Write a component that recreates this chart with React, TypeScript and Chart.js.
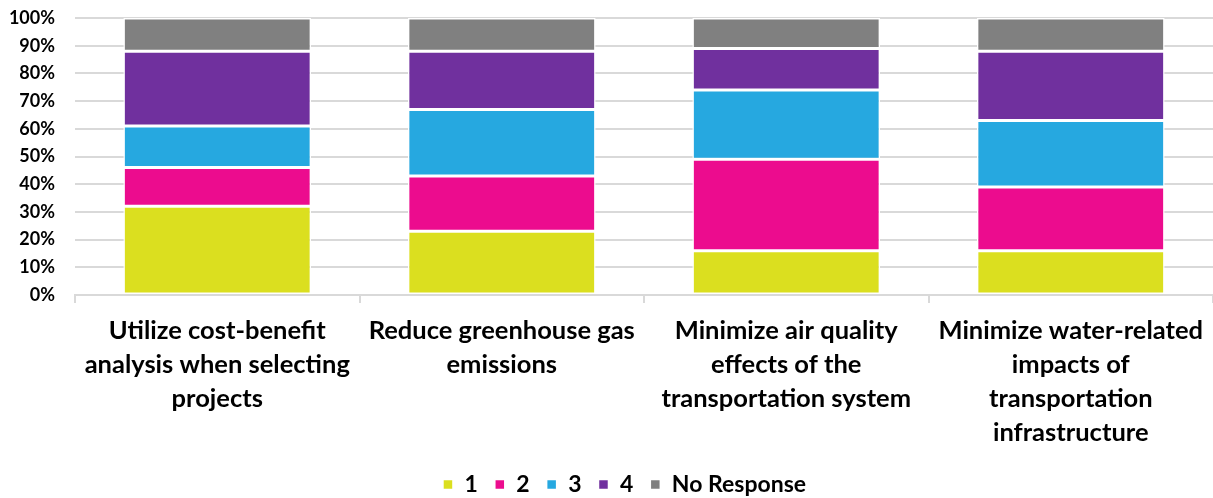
import React, { useEffect, useRef } from "react";
import { Chart, registerables } from "chart.js";

Chart.register(...registerables);

const categories: string[][] = [
  ["Utilize cost-benefit", "analysis when selecting", "projects"],
  ["Reduce greenhouse gas", "emissions"],
  ["Minimize air quality", "effects of the", "transportation system"],
  ["Minimize water-related", "impacts of", "transportation", "infrastructure"],
];

const seriesNames = ["1", "2", "3", "4", "No Response"];
const series1 = [32, 23, 16, 16];
const series2 = [14, 20, 33, 23];
const series3 = [15, 24, 25, 24];
const series4 = [27, 21, 15, 25];
const seriesNR = [12, 12, 11, 12];
const colors = ["#DBDF1F", "#EC0C8E", "#26A8E0", "#70309E", "#808080"];
const yTicks = [0, 10, 20, 30, 40, 50, 60, 70, 80, 90, 100];

const legendShift = {
  id: "legendShift",
  afterLayout(chart: any) {
    const lg = chart.legend;
    if (lg) {
      lg.left += 18;
      lg.right += 18;
    }
  },
};

export default function App() {
  const ref = useRef<HTMLCanvasElement | null>(null);
  useEffect(() => {
    document.body.style.margin = "0";
    const font = "Lato, 'Open Sans', sans-serif";
    const all = [series1, series2, series3, series4, seriesNR];
    const chart = new Chart(ref.current!, {
      type: "bar",
      data: {
        labels: categories,
        datasets: all.map((d, i) => ({
          label: seriesNames[i],
          data: d,
          backgroundColor: colors[i],
          borderColor: "#FFFFFF",
          borderWidth: 1.5,
          borderSkipped: false,
          barPercentage: 0.66,
          categoryPercentage: 1,
        })),
      },
      plugins: [legendShift],
      options: {
        animation: false,
        responsive: false,
        maintainAspectRatio: false,
        layout: { padding: { top: 18, right: 0, left: 0, bottom: -8 } },
        plugins: {
          tooltip: { enabled: false },
          legend: {
            position: "bottom",
            labels: {
              boxWidth: 10,
              boxHeight: 10,
              padding: 17,
              color: "#000",
              font: { family: font, size: 23, weight: "bold" },
            },
          },
        },
        scales: {
          x: {
            stacked: true,
            afterFit: (axis: any) => {
              axis.height = 161;
              axis.paddingLeft = 0;
              axis.paddingRight = 0;
            },
            grid: {
              drawOnChartArea: false,
              drawTicks: true,
              tickLength: 8,
              color: "#D9D9D9",
              lineWidth: 2,
              offset: true,
            },
            border: { color: "#D9D9D9", width: 2 },
            ticks: {
              color: "#000",
              padding: 11,
              maxRotation: 0,
              autoSkip: false,
              font: { family: font, size: 25.5, weight: "bold", lineHeight: 1.33 },
            },
          },
          y: {
            stacked: true,
            min: 0,
            max: 100,
            afterBuildTicks: (axis: any) => {
              axis.ticks = yTicks.map((v) => ({ value: v }));
            },
            afterFit: (axis: any) => {
              axis.width = 75;
              axis.paddingTop = 0;
              axis.paddingBottom = 0;
            },
            grid: { color: "#D9D9D9", lineWidth: 2, drawTicks: false },
            border: { display: false },
            ticks: {
              color: "#000",
              padding: 20,
              callback: (v: any) => v + "%",
              font: { family: font, size: 18, weight: "bold" },
            },
          },
        },
      },
    });
    return () => chart.destroy();
  }, []);
  return (
    <div style={{ width: 1213, height: 498 }}>
      <canvas ref={ref} width={1213} height={498} />
    </div>
  );
}
